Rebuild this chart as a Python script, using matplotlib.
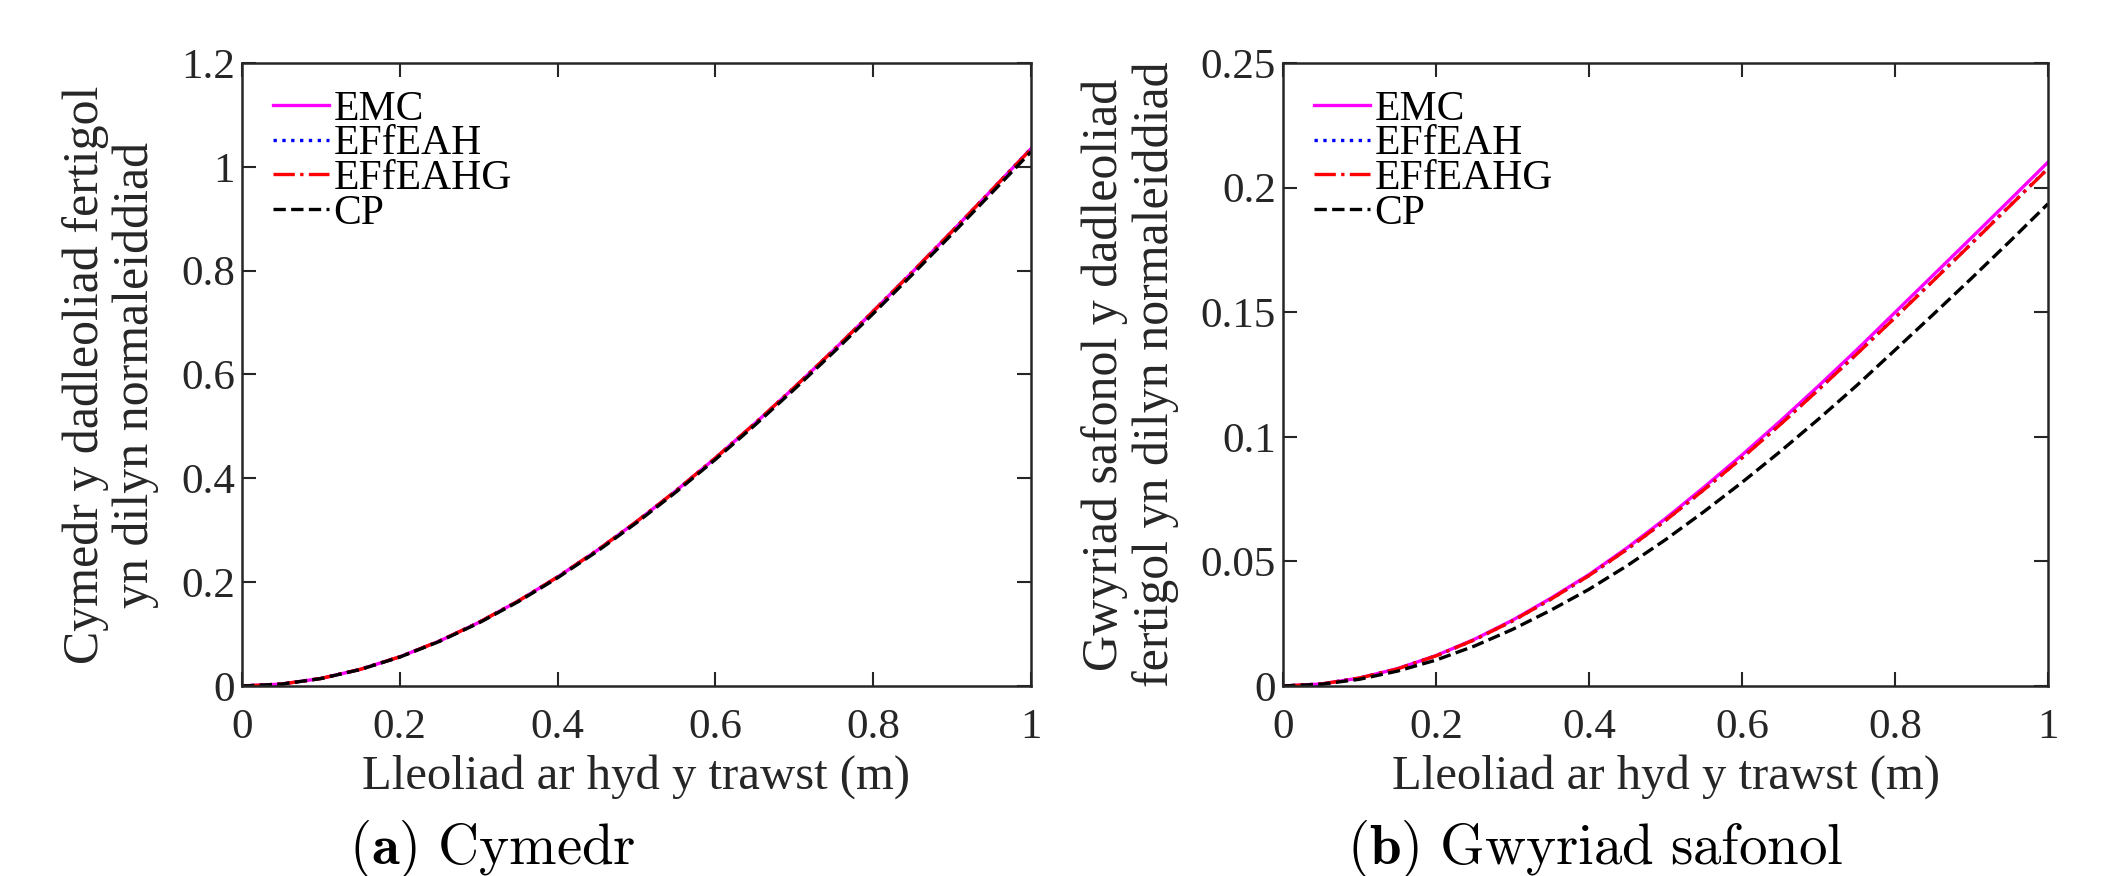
import matplotlib
matplotlib.use("Agg")
import matplotlib.pyplot as plt

plt.rcParams['font.family'] = ['Liberation Serif', 'DejaVu Serif']
plt.rcParams['mathtext.fontset'] = 'cm'

x = [0.0, 0.05, 0.1, 0.15, 0.2, 0.25, 0.3, 0.35, 0.4, 0.45, 0.5,
     0.55, 0.6, 0.65, 0.7, 0.75, 0.8, 0.85, 0.9, 0.95, 1.0]

mean_emc = [0.0, 0.0037, 0.0145, 0.0321, 0.0562, 0.0864, 0.1223, 0.1636, 0.2100, 0.2611, 0.3166,
            0.3760, 0.4392, 0.5057, 0.5751, 0.6472, 0.7216, 0.7979, 0.8758, 0.9549, 1.0350]
mean_effeah = [0.0, 0.0037, 0.0145, 0.0321, 0.0562, 0.0864, 0.1223, 0.1636, 0.2100, 0.2611, 0.3166,
               0.3760, 0.4392, 0.5057, 0.5751, 0.6472, 0.7216, 0.7979, 0.8758, 0.9549, 1.0350]
mean_effeahg = [0.0, 0.0037, 0.0145, 0.0321, 0.0562, 0.0864, 0.1223, 0.1636, 0.2100, 0.2611, 0.3166,
                0.3760, 0.4392, 0.5057, 0.5751, 0.6472, 0.7216, 0.7979, 0.8758, 0.9549, 1.0340]
mean_cp = [0.0, 0.0036, 0.0143, 0.0318, 0.0557, 0.0857, 0.1213, 0.1623, 0.2084, 0.2592, 0.3144,
           0.3735, 0.4363, 0.5024, 0.5715, 0.6432, 0.7172, 0.7931, 0.8706, 0.9494, 1.0290]

std_emc = [0.0, 0.0008, 0.0032, 0.0070, 0.0122, 0.0187, 0.0264, 0.0352, 0.0447, 0.0555, 0.0672,
           0.0797, 0.0927, 0.1063, 0.1204, 0.1349, 0.1499, 0.1649, 0.1799, 0.1950, 0.2102]
std_effeah = [0.0, 0.0008, 0.0032, 0.0069, 0.0121, 0.0185, 0.0261, 0.0348, 0.0443, 0.0549, 0.0664,
              0.0787, 0.0916, 0.1050, 0.1190, 0.1333, 0.1479, 0.1627, 0.1776, 0.1927, 0.2077]
std_effeahg = [0.0, 0.0008, 0.0032, 0.0069, 0.0121, 0.0185, 0.0261, 0.0348, 0.0443, 0.0549, 0.0664,
               0.0787, 0.0915, 0.1049, 0.1189, 0.1332, 0.1478, 0.1626, 0.1775, 0.1926, 0.2076]
std_cp = [0.0, 0.0007, 0.0027, 0.0060, 0.0104, 0.0160, 0.0227, 0.0304, 0.0388, 0.0483, 0.0587,
          0.0699, 0.0817, 0.0941, 0.1071, 0.1206, 0.1348, 0.1491, 0.1636, 0.1784, 0.1935]

labels = ['EMC', 'EFfEAH', 'EFfEAHG', 'CP']
colors = ['#ff00ff', '#0000ff', '#ff0000', '#000000']
styles = ['-', ':', '-.', '--']

xticks = [0, 0.2, 0.4, 0.6, 0.8, 1]
xtick_labels = ['0', '0.2', '0.4', '0.6', '0.8', '1']
yticks_a = [0, 0.2, 0.4, 0.6, 0.8, 1, 1.2]
ytick_labels_a = ['0', '0.2', '0.4', '0.6', '0.8', '1', '1.2']
yticks_b = [0, 0.05, 0.1, 0.15, 0.2, 0.25]
ytick_labels_b = ['0', '0.05', '0.1', '0.15', '0.2', '0.25']

xlabel = 'Lleoliad ar hyd y trawst (m)'
ylabel_a = 'Cymedr y dadleoliad fertigol\nyn dilyn normaleiddiad'
ylabel_b = 'Gwyriad safonol y dadleoliad\nfertigol yn dilyn normaleiddiad'
caption_a = r'$\mathbf{(a)}\ \mathrm{Cymedr}$'
caption_b = r'$\mathbf{(b)}\ \mathrm{Gwyriad\ safonol}$'

W, H = 2106, 876
fig = plt.figure(figsize=(W / 100, H / 100), dpi=100)
ax_a = fig.add_axes([242 / W, 1 - 686 / H, (1031 - 242) / W, (686 - 63) / H])
ax_b = fig.add_axes([1283 / W, 1 - 686 / H, (2048 - 1283) / W, (686 - 63) / H])

axc = '#262626'
for ax, series, yt, ytl, yl in [
        (ax_a, [mean_emc, mean_effeah, mean_effeahg, mean_cp], yticks_a, ytick_labels_a, ylabel_a),
        (ax_b, [std_emc, std_effeah, std_effeahg, std_cp], yticks_b, ytick_labels_b, ylabel_b)]:
    for s, lab, c, ls in zip(series, labels, colors, styles):
        ax.plot(x, s, ls, color=c, lw=2.4, label=lab)
    ax.set_xlim(0, 1)
    ax.set_ylim(yt[0], yt[-1])
    ax.set_xticks(xticks)
    ax.set_xticklabels(xtick_labels)
    ax.set_yticks(yt)
    ax.set_yticklabels(ytl)
    ax.tick_params(direction='in', top=True, right=True, length=10, width=1.5,
                   labelsize=31, colors=axc, labelcolor=axc)
    ax.tick_params(axis='x', pad=16)
    ax.tick_params(axis='y', pad=5)
    for sp in ax.spines.values():
        sp.set_linewidth(1.8)
        sp.set_color(axc)
    ax.set_xlabel(xlabel, fontsize=35, color=axc, labelpad=5)
    ax.set_ylabel(yl, fontsize=36, color=axc, labelpad=16, linespacing=1.1)
    bw = ax.get_position().width * W
    bh = ax.get_position().height * H
    leg = ax.legend(loc='upper left', frameon=False, fontsize=30, handlelength=1.35,
                    handletextpad=0.1, labelspacing=-0.09, borderaxespad=0, borderpad=0,
                    bbox_to_anchor=(31 / bw, 1 - 27 / bh))
    for t in leg.get_texts():
        t.set_color('black')

fig.text(492 / W, 1 - 849 / H, caption_a, ha='center', va='center', fontsize=41)
fig.text(1595 / W, 1 - 849 / H, caption_b, ha='center', va='center', fontsize=41)

fig.savefig('out.png', dpi=100)
